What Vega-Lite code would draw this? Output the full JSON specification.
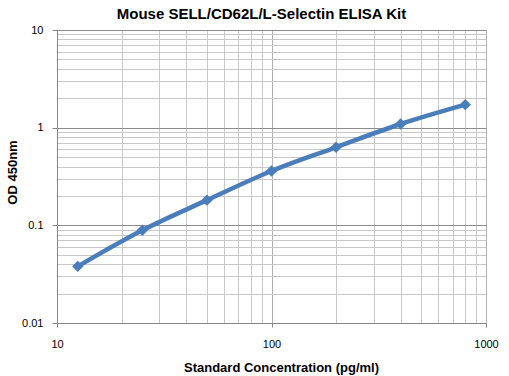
{
  "$schema": "https://vega.github.io/schema/vega-lite/v6.json",
  "autosize": "none",
  "width": 429,
  "height": 293,
  "padding": {"left": 57, "top": 30, "right": 23, "bottom": 53},
  "background": "white",
  "title": {
    "text": "Mouse SELL/CD62L/L-Selectin ELISA Kit",
    "font": "Liberation Sans",
    "fontSize": 15,
    "fontWeight": "bold",
    "color": "#000000",
    "anchor": "middle",
    "dx": -10,
    "offset": 2
  },
  "config": {"view": {"stroke": null}},
  "data": {
    "values": [
      {"conc": 12.5, "od": 0.038},
      {"conc": 25, "od": 0.089},
      {"conc": 50, "od": 0.181},
      {"conc": 100, "od": 0.36},
      {"conc": 200, "od": 0.63},
      {"conc": 400, "od": 1.09},
      {"conc": 800, "od": 1.72}
    ]
  },
  "mark": {
    "type": "line",
    "interpolate": "monotone",
    "strokeWidth": 4.5,
    "color": "#4A7EBB",
    "point": {"shape": "diamond", "size": 130, "filled": true, "color": "#4A7EBB", "opacity": 1}
  },
  "encoding": {
    "x": {
      "field": "conc",
      "type": "quantitative",
      "scale": {"type": "log", "domain": [10, 1000], "nice": false},
      "axis": {
        "values": [10,20,30,40,50,60,70,80,90,100,200,300,400,500,600,700,800,900,1000],
        "labelExpr": "abs(log(datum.value)/LN10 - round(log(datum.value)/LN10)) < 0.001 ? '' + datum.value : ''",
        "grid": true,
        "gridColor": {"condition": {"test": "abs(log(datum.value)/LN10 - round(log(datum.value)/LN10)) < 0.001", "value": "#b0b0b0"}, "value": "#c8c8c8"},
        "gridWidth": 1,
        "tickColor": {"condition": {"test": "abs(log(datum.value)/LN10 - round(log(datum.value)/LN10)) < 0.001", "value": "#868686"}, "value": "transparent"},
        "tickSize": 4,
        "domainColor": "#868686",
        "labelFont": "Liberation Sans",
        "labelFontSize": 11,
        "labelColor": "#000000",
        "labelPadding": 11,
        "labelFlush": false,
        "labelOverlap": false,
        "title": "Standard Concentration (pg/ml)",
        "titleFont": "Liberation Sans",
        "titleFontSize": 13,
        "titleFontWeight": "bold",
        "titleColor": "#000000",
        "titleX": 224,
        "titleY": 44,
        "titleBaseline": "middle"
      }
    },
    "y": {
      "field": "od",
      "type": "quantitative",
      "scale": {"type": "log", "domain": [0.01, 10], "nice": false},
      "axis": {
        "values": [0.01,0.02,0.03,0.04,0.05,0.06,0.07,0.08,0.09,0.1,0.2,0.3,0.4,0.5,0.6,0.7,0.8,0.9,1,2,3,4,5,6,7,8,9,10],
        "labelExpr": "abs(log(datum.value)/LN10 - round(log(datum.value)/LN10)) < 0.001 ? '' + datum.value : ''",
        "grid": true,
        "gridColor": {"condition": {"test": "abs(log(datum.value)/LN10 - round(log(datum.value)/LN10)) < 0.001", "value": "#8c8c8c"}, "value": "#c8c8c8"},
        "gridWidth": 1,
        "tickColor": {"condition": {"test": "abs(log(datum.value)/LN10 - round(log(datum.value)/LN10)) < 0.001", "value": "#868686"}, "value": "transparent"},
        "tickSize": 5,
        "domainColor": "#868686",
        "labelFont": "Liberation Sans",
        "labelFontSize": 11,
        "labelColor": "#000000",
        "labelPadding": 9,
        "labelFlush": false,
        "labelOverlap": false,
        "title": "OD 450nm",
        "titleFont": "Liberation Sans",
        "titleFontSize": 13,
        "titleFontWeight": "bold",
        "titleColor": "#000000",
        "titleX": -45,
        "titleY": 142,
        "titleAlign": "center",
        "titleBaseline": "middle",
        "titleAngle": -90
      }
    }
  }
}
